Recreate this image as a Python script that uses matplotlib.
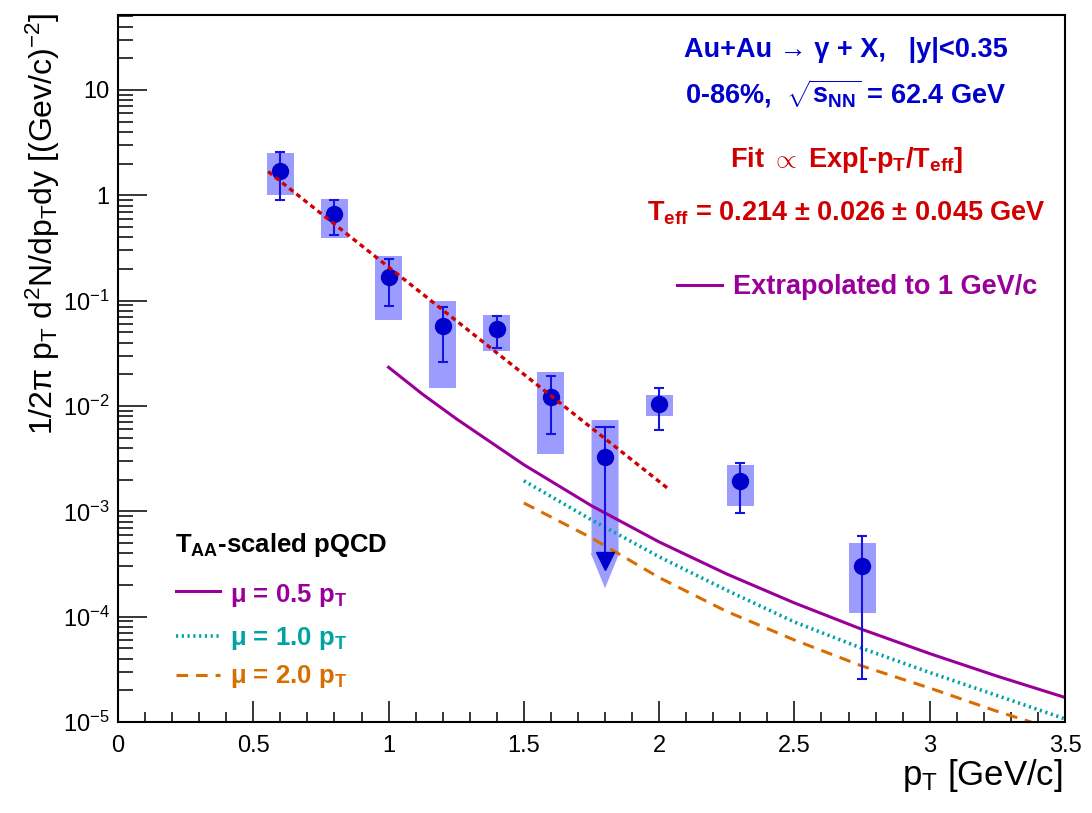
import numpy as np
import matplotlib
matplotlib.use('Agg')
import matplotlib.pyplot as plt
from matplotlib.ticker import FixedLocator, MultipleLocator, LogLocator, NullFormatter
from matplotlib.patches import Polygon

plt.rcParams['mathtext.fontset'] = 'custom'
plt.rcParams['mathtext.rm'] = 'Liberation Sans'
plt.rcParams['mathtext.it'] = 'Liberation Sans:italic'
plt.rcParams['mathtext.bf'] = 'Liberation Sans:bold'

NARROW = ['Liberation Sans Narrow', 'Liberation Sans', 'DejaVu Sans']
BOLD = ['Liberation Sans', 'DejaVu Sans']

# direct photon yield, Au+Au 62.4 GeV
pt = np.array([0.6, 0.8, 1.0, 1.2, 1.4, 1.6, 2.0, 2.3, 2.75])
dndpt = np.array([1.70, 0.66, 0.169, 0.0574, 0.0533, 0.0122, 0.01035, 0.00194, 3.03e-4])
stat_hi = np.array([2.60, 0.90, 0.247, 0.0875, 0.0714, 0.0192, 0.0149, 0.0029, 5.86e-4])
stat_lo = np.array([0.90, 0.417, 0.0896, 0.0263, 0.0352, 0.0054, 0.0059, 0.00097, 2.55e-5])
sys_hi = np.array([2.5, 0.93, 0.267, 0.099, 0.073, 0.0208, 0.0127, 0.00275, 4.99e-4])
sys_lo = np.array([1.0, 0.39, 0.0655, 0.0147, 0.0334, 0.0035, 0.0081, 0.00113, 1.09e-4])

# upper limit point
ul_pt = 1.8
ul_y = 3.3e-3
ul_stat_hi = 6.35e-3
ul_arrow = 3.36e-4
ul_sys_hi = 7.35e-3
ul_sys_lo = 4.0e-4
ul_sys_tip = 1.86e-4

# exponential fit, end points (straight on log scale)
fit_pt = [0.555, 2.04]
fit_y = [1.68, 1.59e-3]

# extrapolated spectrum (mu = 0.5 pT)
ext_pt = [1.0, 1.125, 1.25, 1.5, 1.75, 2.0, 2.25, 2.5, 2.75, 3.0, 3.25, 3.5]
ext_y = [0.0233, 0.01297, 7.57e-3, 2.77e-3, 1.13e-3, 5.12e-4, 2.54e-4, 1.35e-4,
         7.57e-5, 4.46e-5, 2.72e-5, 1.71e-5]

# pQCD mu = 1.0 pT and mu = 2.0 pT
qcd_pt = [1.5, 1.75, 2.0, 2.25, 2.5, 2.75, 3.0, 3.25, 3.5]
qcd1_y = [1.95e-3, 8.3e-4, 3.7e-4, 1.78e-4, 8.9e-5, 5.0e-5, 2.95e-5, 1.78e-5, 1.07e-5]
qcd2_y = [1.2e-3, 5.6e-4, 2.35e-4, 1.12e-4, 6.0e-5, 3.4e-5, 2.1e-5, 1.26e-5, 7.9e-6]

ytick_vals = [1e-5, 1e-4, 1e-3, 1e-2, 1e-1, 1, 10]
ytick_labels = [r'$\mathdefault{10^{-5}}$', r'$\mathdefault{10^{-4}}$', r'$\mathdefault{10^{-3}}$',
                r'$\mathdefault{10^{-2}}$', r'$\mathdefault{10^{-1}}$', '1', '10']
xtick_vals = [0, 0.5, 1, 1.5, 2, 2.5, 3, 3.5]
xtick_labels = ['0', '0.5', '1', '1.5', '2', '2.5', '3', '3.5']

BLUE_TXT = '#0000cc'
RED = '#d00000'
PURPLE = '#990099'
TEAL = '#00a3a3'
ORANGE = '#d96d00'
BOX = '#9c9cff'
MARK = '#0000cc'
EBAR = '#1414e0'

fig = plt.figure(figsize=(10.92, 8.13), dpi=100)
ax = fig.add_axes([118 / 1092, 1 - 722 / 813, 947 / 1092, 707 / 813])
ax.set_yscale('log')
ax.set_xlim(0, 3.5)
ax.set_ylim(1e-5, 51.5)

# systematic boxes
ax.bar(pt, sys_hi - sys_lo, bottom=sys_lo, width=0.1, color=BOX, zorder=1)
w = 0.05
ax.add_patch(Polygon([(ul_pt - w, ul_sys_hi), (ul_pt + w, ul_sys_hi), (ul_pt + w, ul_sys_lo),
                      (ul_pt + 1.06 * w, ul_sys_lo), (ul_pt, ul_sys_tip),
                      (ul_pt - 1.06 * w, ul_sys_lo), (ul_pt - w, ul_sys_lo)],
                     closed=True, facecolor=BOX, edgecolor='none', zorder=1))

# theory curves
ax.plot(ext_pt, ext_y, color=PURPLE, lw=2.2, zorder=2)
ax.plot(qcd_pt, qcd1_y, color=TEAL, lw=2.6, dashes=(0.6, 1.0), dash_capstyle='butt', zorder=2)
ax.plot(qcd_pt, qcd2_y, color=ORANGE, lw=2.2, dashes=(3.8, 2.6), dash_capstyle='butt', zorder=2)

# data points
ax.errorbar(pt, dndpt, yerr=[dndpt - stat_lo, stat_hi - dndpt], fmt='o', ms=11.5,
            color=MARK, ecolor=EBAR, elinewidth=1.5, capsize=3.5, capthick=1.5, zorder=3)
ax.plot([ul_pt, ul_pt], [ul_arrow, ul_stat_hi], color=EBAR, lw=1.5, zorder=3)
ax.plot(ul_pt, ul_stat_hi, marker='_', ms=15, mew=1.5, color=EBAR, zorder=3)
ax.plot(ul_pt, ul_arrow, marker='v', ms=13, color=MARK, zorder=3)
ax.plot(ul_pt, ul_y, marker='o', ms=11.5, color=MARK, zorder=3)

# fit
ax.plot(fit_pt, fit_y, color=RED, lw=2.4, dashes=(1.5, 1.2), dash_capstyle='butt', zorder=4)

# axes styling
for s in ax.spines.values():
    s.set_linewidth(1.5)
ax.yaxis.set_major_locator(FixedLocator(ytick_vals))
ax.set_yticklabels(ytick_labels)
ax.yaxis.set_minor_locator(LogLocator(base=10, subs=np.arange(2, 10)))
ax.yaxis.set_minor_formatter(NullFormatter())
ax.set_xticks(xtick_vals)
ax.set_xticklabels(xtick_labels)
ax.xaxis.set_minor_locator(MultipleLocator(0.1))
ax.tick_params(axis='x', which='major', direction='in', length=15, width=1.1, pad=9)
ax.tick_params(axis='x', which='minor', direction='in', length=7.5, width=1.1)
ax.tick_params(axis='y', which='major', direction='in', length=21, width=1.1, pad=6)
ax.tick_params(axis='y', which='minor', direction='in', length=10.5, width=1.1)
for lab in ax.get_xticklabels() + ax.get_yticklabels():
    lab.set_family(NARROW)
    lab.set_fontsize(17)

ax.set_xlabel(r'$\mathdefault{p_{T}}$ [GeV/c]', family=NARROW, fontsize=25, loc='right')
ax.xaxis.set_label_coords(0.997, -0.05)
ax.set_ylabel(r'$\mathdefault{1/2\pi\ p_{T}\ d^{2}N/dp_{T}dy\ [(Gev/c)^{-2}]}$',
              family=NARROW, fontsize=23, loc='top')
ax.yaxis.set_label_coords(-0.059, 1.004)

# annotations, top right
tx = 0.769
ax.text(tx, 0.9406, 'Au+Au → γ + X,   |y|<0.35', ha='center', va='baseline',
        transform=ax.transAxes, family=BOLD, fontweight='bold', fontsize=19.5, color=BLUE_TXT)
ax.text(tx, 0.875, r'0-86%,  $\mathdefault{\sqrt{s_{NN}}}$ = 62.4 GeV', ha='center', va='baseline',
        transform=ax.transAxes, family=BOLD, fontweight='bold', fontsize=19.5, color=BLUE_TXT)
ax.text(tx, 0.7855, r'Fit $\propto$ Exp[-$\mathdefault{p_{T}}$/$\mathdefault{T_{eff}}$]', ha='center',
        va='baseline', transform=ax.transAxes, family=BOLD, fontweight='bold', fontsize=19.5, color=RED)
ax.text(tx, 0.710, r'$\mathdefault{T_{eff}}$ = 0.214 ± 0.026 ± 0.045 GeV', ha='center',
        va='baseline', transform=ax.transAxes, family=BOLD, fontweight='bold', fontsize=19.5, color=RED)
ax.plot([0.590, 0.638], [0.618, 0.618], color=PURPLE, lw=2.2, transform=ax.transAxes, clip_on=False)
ax.text(0.649, 0.606, 'Extrapolated to 1 GeV/c', ha='left', va='baseline',
        transform=ax.transAxes, family=BOLD, fontweight='bold', fontsize=19.5, color=PURPLE)

# pQCD legend, bottom left
ax.text(0.060, 0.241, r'$\mathdefault{T_{AA}}$-scaled pQCD', ha='left', va='baseline',
        transform=ax.transAxes, family=BOLD, fontweight='bold', fontsize=18.5, color='black')
legend_rows = [
    (r'μ = 0.5 $\mathdefault{p_{T}}$', PURPLE, None, 2.2, 0.170, 0.185),
    (r'μ = 1.0 $\mathdefault{p_{T}}$', TEAL, (0.6, 1.0), 2.6, 0.109, 0.121),
    (r'μ = 2.0 $\mathdefault{p_{T}}$', ORANGE, (3.8, 2.6), 2.2, 0.0547, 0.0665),
]
for label, col, dash, lw, ybase, yline in legend_rows:
    kw = dict(color=col, lw=lw, transform=ax.transAxes, clip_on=False, dash_capstyle='butt')
    if dash is not None:
        kw['dashes'] = dash
    ax.plot([0.061, 0.108], [yline, yline], **kw)
    ax.text(0.118, ybase, label, ha='left', va='baseline', transform=ax.transAxes,
            family=BOLD, fontweight='bold', fontsize=18.5, color=col)

fig.savefig('out.png', dpi=100)
